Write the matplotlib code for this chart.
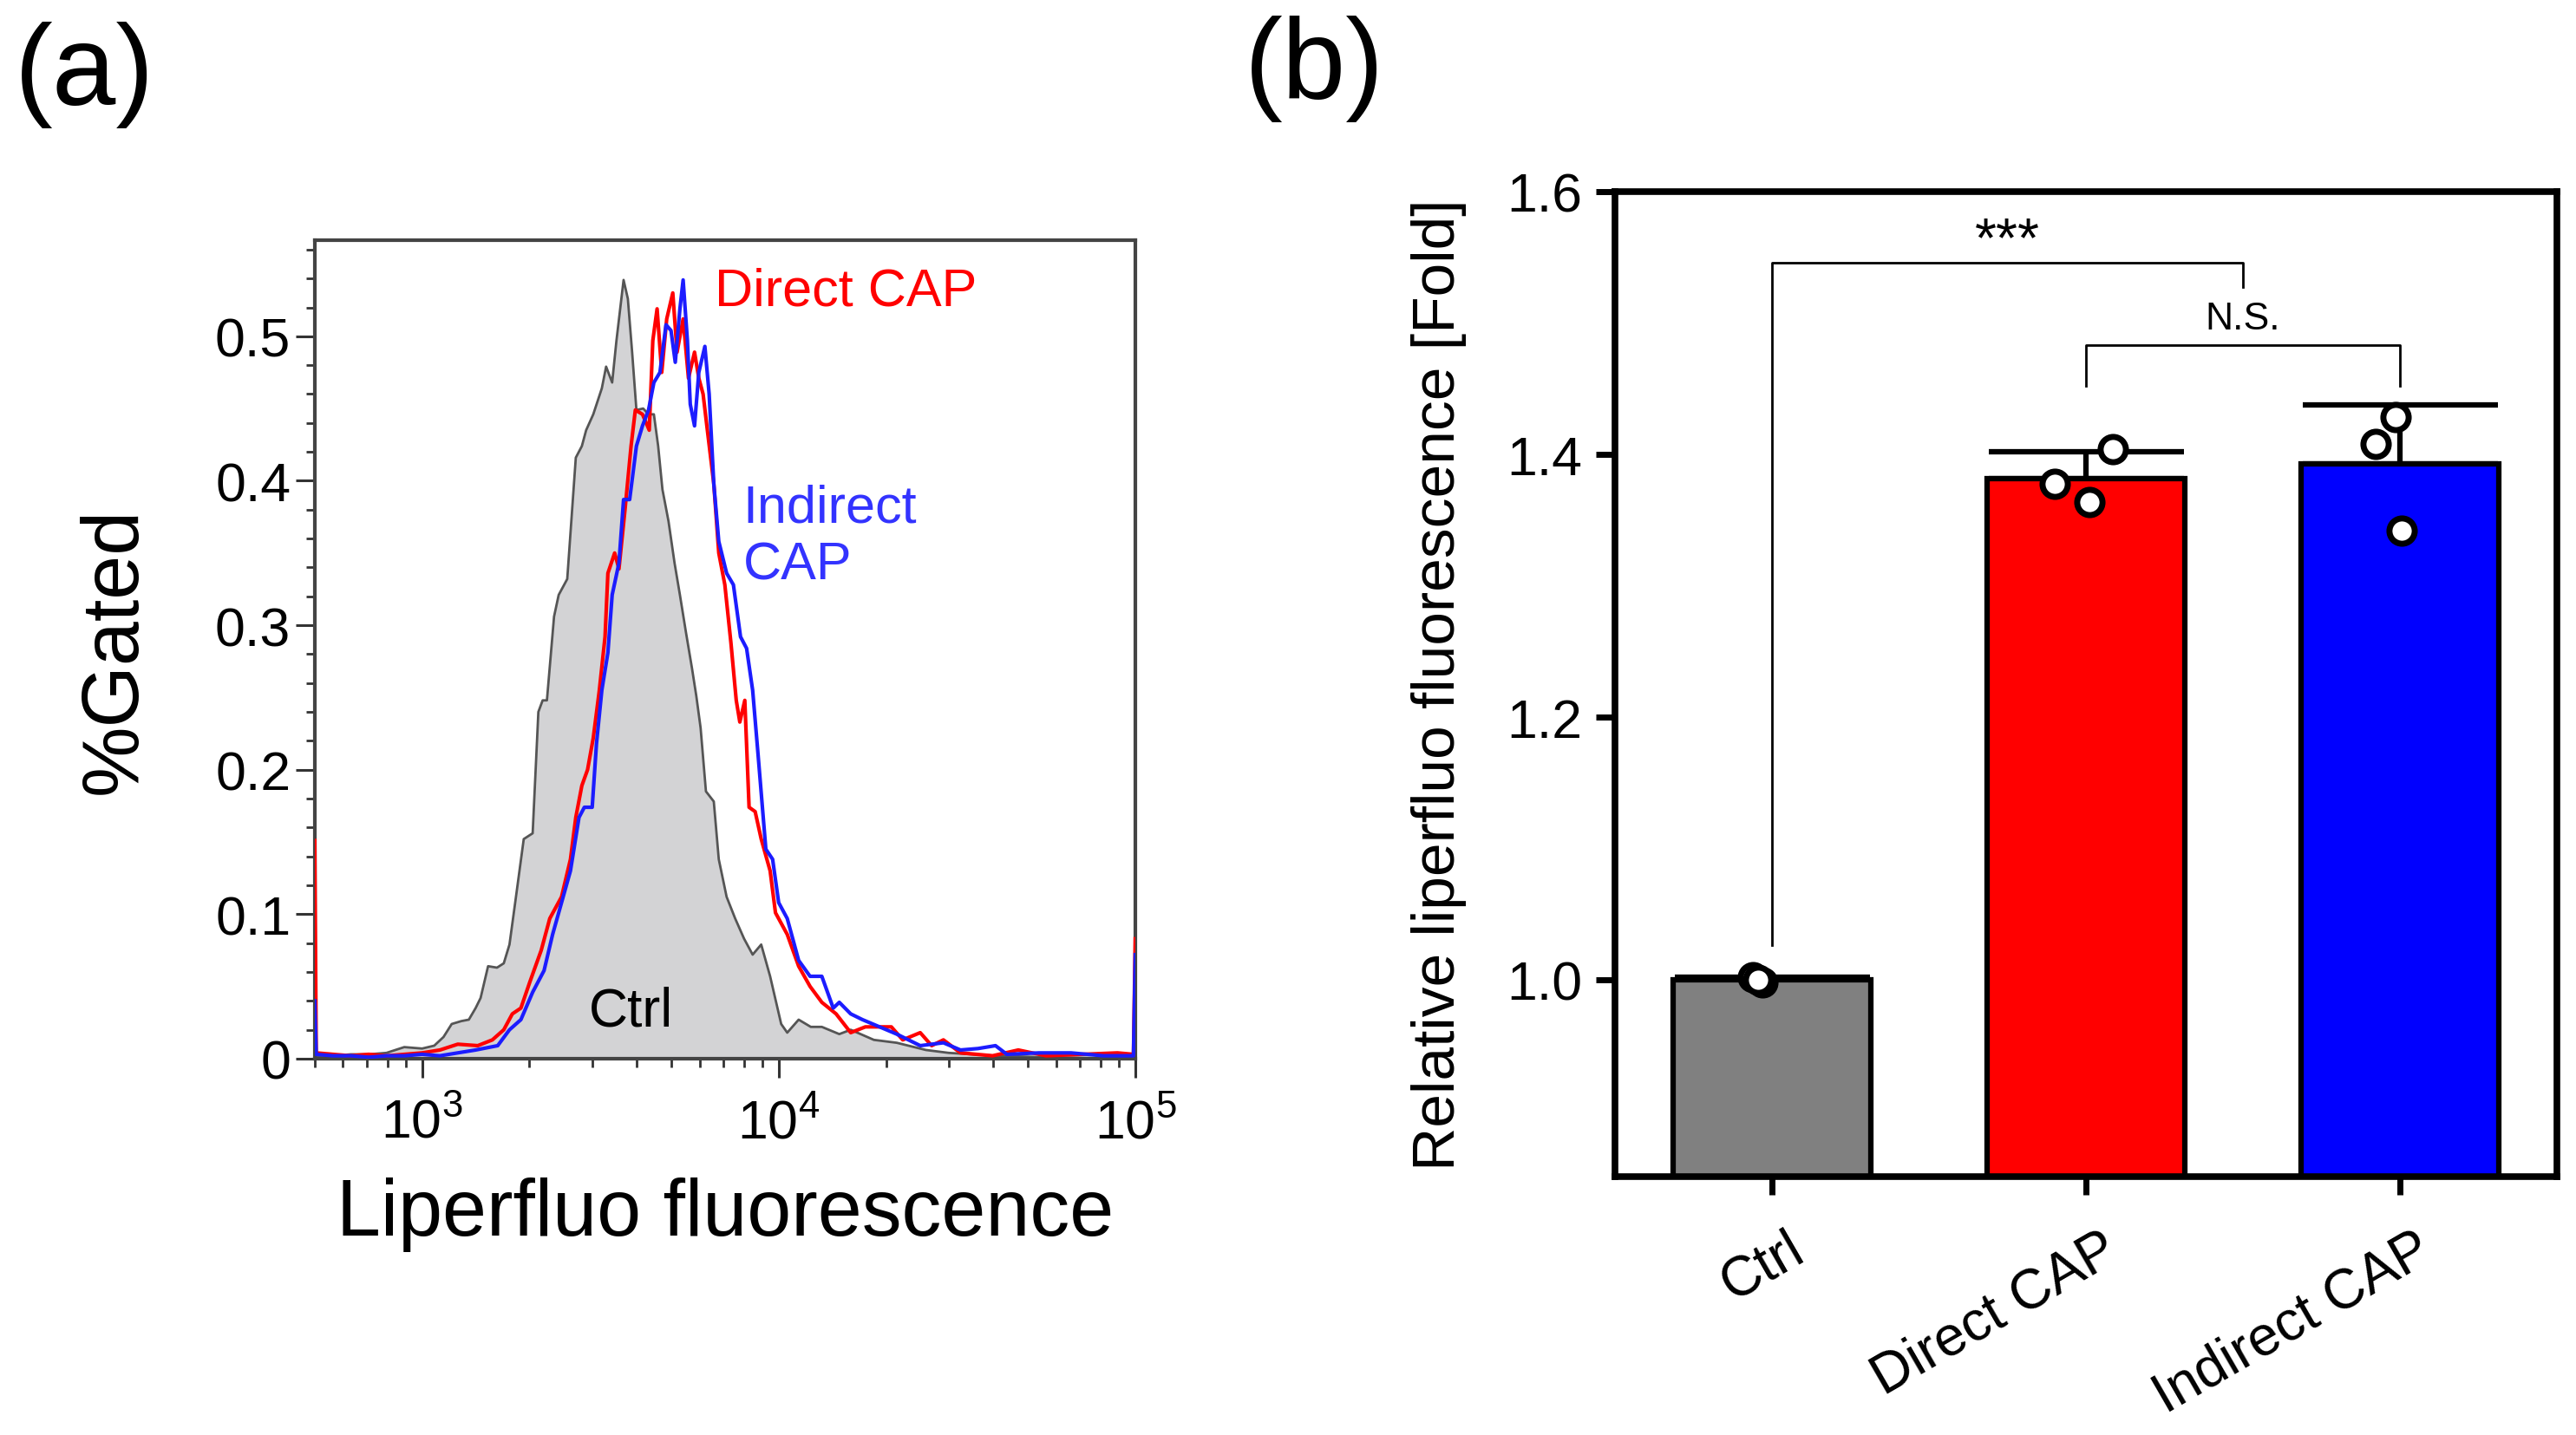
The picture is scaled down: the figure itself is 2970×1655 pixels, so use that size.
import numpy as np
import matplotlib
matplotlib.use("Agg")
import matplotlib.pyplot as plt
from matplotlib.ticker import FixedLocator, MultipleLocator, LogLocator, NullFormatter
from matplotlib.transforms import ScaledTranslation

plt.rcParams['font.family'] = ['Liberation Sans', 'DejaVu Sans']

# ---------------- Panel (a) data: log10(fluorescence) vs %Gated ----------------
ctrl_log = [2.699, 2.75, 2.80, 2.85, 2.90, 2.95, 3.00, 3.034, 3.06, 3.083, 3.11, 3.131, 3.15,
            3.164, 3.185, 3.21, 3.229, 3.245, 3.261, 3.285, 3.31, 3.326, 3.338, 3.350, 3.37,
            3.383, 3.407, 3.431, 3.448, 3.46, 3.48, 3.504, 3.516, 3.533, 3.545, 3.565, 3.577,
            3.589, 3.601, 3.62, 3.635, 3.650, 3.662, 3.674, 3.691, 3.708, 3.723, 3.740, 3.757,
            3.769, 3.781, 3.796, 3.818, 3.832, 3.854, 3.878, 3.903, 3.927, 3.951, 3.976, 4.007,
            4.024, 4.056, 4.09, 4.121, 4.17, 4.202, 4.267, 4.331, 4.413, 4.477, 4.608, 4.75, 5.0]
ctrl_val = [0.002, 0.002, 0.003, 0.003, 0.004, 0.008, 0.007, 0.009, 0.015, 0.024, 0.026, 0.027,
            0.035, 0.042, 0.064, 0.063, 0.066, 0.079, 0.108, 0.152, 0.156, 0.240, 0.248, 0.248,
            0.306, 0.321, 0.332, 0.416, 0.424, 0.435, 0.446, 0.464, 0.479, 0.468, 0.497, 0.539,
            0.526, 0.489, 0.449, 0.450, 0.446, 0.446, 0.424, 0.394, 0.372, 0.343, 0.321, 0.295,
            0.270, 0.251, 0.229, 0.185, 0.178, 0.138, 0.112, 0.097, 0.083, 0.072, 0.079, 0.057,
            0.024, 0.018, 0.027, 0.022, 0.022, 0.017, 0.020, 0.013, 0.011, 0.006, 0.004, 0.002,
            0.001, 0.0]

direct_log = [2.699, 2.703, 2.75, 2.80, 2.85, 2.90, 2.95, 3.00, 3.05, 3.10, 3.156, 3.197, 3.229,
              3.253, 3.277, 3.302, 3.334, 3.358, 3.391, 3.416, 3.431, 3.448, 3.464, 3.480, 3.497,
              3.513, 3.521, 3.540, 3.552, 3.569, 3.586, 3.598, 3.618, 3.637, 3.647, 3.659, 3.672,
              3.686, 3.703, 3.715, 3.732, 3.747, 3.764, 3.776, 3.788, 3.800, 3.818, 3.832, 3.849,
              3.866, 3.881, 3.891, 3.905, 3.917, 3.934, 3.951, 3.976, 3.991, 4.024, 4.056, 4.088,
              4.121, 4.161, 4.202, 4.243, 4.316, 4.348, 4.397, 4.429, 4.462, 4.510, 4.60, 4.672,
              4.75, 4.85, 4.95, 4.995, 5.0]
direct_val = [0.151, 0.004, 0.003, 0.002, 0.003, 0.002, 0.003, 0.004, 0.006, 0.010, 0.009, 0.013,
              0.020, 0.031, 0.035, 0.053, 0.075, 0.097, 0.112, 0.138, 0.167, 0.189, 0.200, 0.222,
              0.255, 0.292, 0.336, 0.350, 0.339, 0.380, 0.424, 0.449, 0.446, 0.435, 0.497, 0.519,
              0.475, 0.512, 0.530, 0.489, 0.512, 0.471, 0.489, 0.471, 0.460, 0.435, 0.398, 0.350,
              0.328, 0.288, 0.248, 0.233, 0.248, 0.174, 0.171, 0.152, 0.130, 0.101, 0.086, 0.064,
              0.050, 0.039, 0.031, 0.018, 0.022, 0.022, 0.013, 0.018, 0.009, 0.013, 0.004, 0.002,
              0.006, 0.002, 0.003, 0.004, 0.003, 0.083]

indirect_log = [2.699, 2.703, 2.75, 2.80, 2.85, 2.90, 2.95, 3.00, 3.05, 3.10, 3.15, 3.212, 3.245,
                3.277, 3.310, 3.342, 3.366, 3.391, 3.416, 3.440, 3.455, 3.477, 3.489, 3.504, 3.521,
                3.533, 3.552, 3.565, 3.582, 3.601, 3.618, 3.635, 3.650, 3.667, 3.684, 3.698, 3.710,
                3.723, 3.732, 3.744, 3.752, 3.764, 3.776, 3.793, 3.805, 3.818, 3.832, 3.854, 3.873,
                3.893, 3.910, 3.927, 3.942, 3.964, 3.983, 4.0, 4.024, 4.056, 4.088, 4.121, 4.153,
                4.170, 4.202, 4.235, 4.283, 4.331, 4.397, 4.462, 4.510, 4.559, 4.608, 4.640, 4.73,
                4.82, 4.91, 4.995, 5.0]
indirect_val = [0.040, 0.003, 0.002, 0.002, 0.001, 0.002, 0.002, 0.003, 0.002, 0.004, 0.006, 0.009,
                0.020, 0.027, 0.046, 0.061, 0.086, 0.108, 0.130, 0.167, 0.174, 0.174, 0.218, 0.255,
                0.281, 0.321, 0.343, 0.387, 0.387, 0.424, 0.438, 0.449, 0.468, 0.475, 0.508, 0.504,
                0.482, 0.519, 0.539, 0.497, 0.453, 0.438, 0.475, 0.493, 0.460, 0.398, 0.358, 0.336,
                0.328, 0.292, 0.284, 0.255, 0.211, 0.145, 0.138, 0.108, 0.097, 0.068, 0.057, 0.057,
                0.035, 0.039, 0.031, 0.027, 0.022, 0.017, 0.009, 0.011, 0.006, 0.007, 0.009, 0.003,
                0.004, 0.004, 0.002, 0.002, 0.072]

a_yticks = [0, 0.1, 0.2, 0.3, 0.4, 0.5]
a_yticklabels = ['0', '0.1', '0.2', '0.3', '0.4', '0.5']

# ---------------- Panel (b) data ----------------
groups = ['Ctrl', 'Direct CAP', 'Indirect CAP']
ctrl_pts = [1.002, 0.998, 1.000]
direct_pts = [1.3775, 1.4038, 1.3636]
indirect_pts = [1.4077, 1.4284, 1.3420]
pt_jitter = [[-0.06, -0.03, -0.045], [-0.10, 0.085, 0.01], [-0.078, -0.015, 0.005]]
bar_colors = ['#808080', '#ff0000', '#0000ff']
b_yticks = [1.0, 1.2, 1.4, 1.6]
b_yticklabels = ['1.0', '1.2', '1.4', '1.6']
# significance brackets: (x positions, heights)
sig1_x = [0, 0, 1.5, 1.5]
sig1_y = [1.026, 1.5458, 1.5458, 1.527]
sig2_x = [1, 1, 2, 2]
sig2_y = [1.452, 1.4834, 1.4834, 1.452]

# ---------------- Figure ----------------
fig = plt.figure(figsize=(29.7, 16.56), dpi=100)

# Panel (a)
axa = fig.add_axes([0.1222, 0.2621, 0.3185, 0.5700])
xc = 10 ** np.array(ctrl_log)
xd = 10 ** np.array(direct_log)
xi = 10 ** np.array(indirect_log)
axa.fill_between(xc, 0, ctrl_val, color='#d3d3d5', lw=0, zorder=1)
axa.plot(xc, ctrl_val, color='#555555', lw=2.0, zorder=2)
axa.plot(xd, direct_val, color='#ff0000', lw=3.0, zorder=3)
axa.plot(xi, indirect_val, color='#1c1cff', lw=3.0, zorder=4)
axa.set_xscale('log')
axa.set_xlim(500, 1e5)
axa.set_ylim(0, 0.5665)
axa.yaxis.set_major_locator(FixedLocator(a_yticks))
axa.set_yticklabels(a_yticklabels)
axa.yaxis.set_minor_locator(MultipleLocator(0.02))
axa.xaxis.set_major_locator(LogLocator(base=10, numticks=10))
axa.xaxis.set_minor_locator(LogLocator(base=10, subs=np.arange(2, 10), numticks=20))
axa.xaxis.set_minor_formatter(NullFormatter())
for s in axa.spines.values():
    s.set_color('#444444')
    s.set_linewidth(3)
axa.tick_params(which='major', direction='out', length=16, width=2.2, color='#333333')
axa.tick_params(which='minor', direction='out', length=7, width=2.0, color='#333333')
axa.tick_params(axis='y', which='major', labelsize=45, pad=4)
axa.tick_params(axis='x', which='major', labelsize=45, pad=16)
axa.set_xlabel('Liperfluo fluorescence', fontsize=66)
axa.xaxis.set_label_coords(0.5, -0.1445)
axa.set_ylabel('%Gated', fontsize=66)
axa.yaxis.set_label_coords(-0.198, 0.5)
axa.text(10 ** 3.82, 0.531, 'Direct CAP', color='#ff0000', fontsize=44, ha='left', va='center')
axa.text(10 ** 3.90, 0.3612, 'Indirect\nCAP', color='#3333ff', fontsize=44, ha='left', va='center')
axa.text(10 ** 3.586, 0.033, 'Ctrl', color='black', fontsize=45, ha='center', va='center')

# Panel (b)
axb = fig.add_axes([0.6269, 0.1800, 0.3657, 0.6860])
pos = np.arange(len(groups))
all_pts = [ctrl_pts, direct_pts, indirect_pts]
means = np.array([np.mean(p) for p in all_pts])
sds = np.array([np.std(p, ddof=1) for p in all_pts])
axb.errorbar(pos, means, yerr=[np.zeros_like(sds), sds], fmt='none', ecolor='black',
             elinewidth=4.5, capsize=81, capthick=4.5, zorder=1)
axb.bar(pos, means, width=0.63, color=bar_colors, edgecolor='black', linewidth=4.5, zorder=2)
for i, p in enumerate(all_pts):
    axb.plot(pos[i] + np.array(pt_jitter[i]), p, 'o', ms=21, mfc='white', mec='black',
             mew=5, zorder=3, clip_on=False)
axb.set_xlim(-0.5, 2.5)
axb.set_ylim(0.85, 1.6)
axb.set_yticks(b_yticks)
axb.set_yticklabels(b_yticklabels)
axb.set_xticks(pos)
axb.set_xticklabels(groups, rotation=30, ha='right', rotation_mode='anchor')
for s in axb.spines.values():
    s.set_color('black')
    s.set_linewidth(5.5)
axb.tick_params(axis='y', direction='out', length=16, width=5, labelsize=45, pad=11)
axb.tick_params(axis='x', direction='out', length=15, width=5, labelsize=46, pad=23)
off = ScaledTranslation(0.17, 0, fig.dpi_scale_trans)
for lab in axb.get_xticklabels():
    lab.set_transform(lab.get_transform() + off)
axb.set_ylabel('Relative liperfluo fluorescence [Fold]', fontsize=50)
axb.yaxis.set_label_coords(-0.157, 0.5)
axb.plot(sig1_x, sig1_y, color='black', lw=2, zorder=1)
axb.plot(sig2_x, sig2_y, color='black', lw=2, zorder=1)
axb.text(0.75, sig1_y[1] + 0.005, '***', fontsize=46, ha='center', va='baseline')
axb.text(1.5, 1.4956, 'N.S.', fontsize=32, ha='center', va='baseline')

# Panel letters
fig.text(0.0327, 0.948, '(a)', fontsize=95, ha='center', va='center')
fig.text(0.5101, 0.952, '(b)', fontsize=95, ha='center', va='center')

fig.savefig('out.png', dpi=100)
